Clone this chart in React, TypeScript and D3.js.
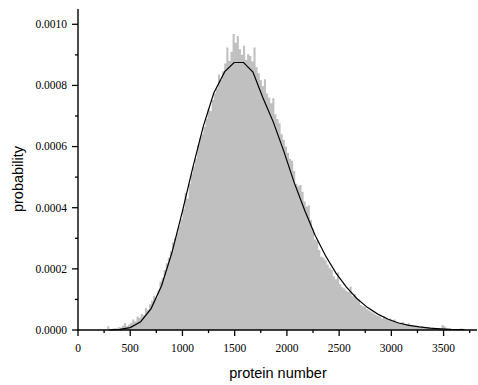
import React from 'react';
import * as d3 from 'd3';

// Histogram: bin edges start at binStart, each binWidth wide; values in probability x 1e-6
const binStart = 260;
const binWidth = 20;
const histPerMillion = [
  0, 12, 2, 4, 6, 5, 9, 8, 14, 22, 12, 18, 24, 34, 28, 44, 40, 52, 48, 72,
  66, 84, 96, 112, 104, 128, 158, 170, 196, 218, 236, 258, 286, 300, 318, 340, 362, 396, 448, 430,
  478, 512, 536, 560, 604, 628, 640, 664, 690, 724, 716, 752, 774, 790, 836, 818, 846, 872, 924, 880,
  910, 968, 940, 962, 918, 900, 930, 884, 902, 896, 878, 924, 860, 840, 818, 798, 820, 774, 760, 742,
  758, 706, 690, 676, 640, 622, 600, 580, 560, 554, 520, 478, 470, 474, 452, 420, 404, 408, 360, 330,
  296, 290, 262, 240, 236, 228, 214, 204, 196, 176, 166, 188, 150, 140, 136, 128, 124, 142, 110, 118,
  104, 100, 82, 78, 76, 68, 64, 60, 54, 50, 46, 44, 38, 46, 36, 34, 38, 30, 34, 26,
  24, 22, 26, 20, 18, 22, 16, 14, 12, 14, 10, 12, 9, 10, 8, 9, 7, 6, 5, 6,
  4, 16, 12, 4, 3, 4, 3, 2, 3, 2, 6, 2, 1, 1, 0, 1, 0,
];

// Fitted curve vertices (protein number, probability x 1e-6)
const curveX = [
  300, 400, 500, 600, 700, 800, 900, 1000, 1100, 1200, 1300, 1405, 1495, 1585, 1675, 1770,
  1870, 1970, 2070, 2170, 2270, 2370, 2470, 2570, 2670, 2770, 2870, 2970, 3070, 3170, 3270,
  3370, 3470, 3570, 3700,
];
const curvePerMillion = [
  0, 2, 8, 27, 70, 145, 254, 389, 533, 667, 775, 845, 875, 875, 844, 760,
  680, 585, 482, 392, 310, 243, 186, 140, 103, 74, 52, 35, 23, 15, 10,
  6, 4, 2, 1,
];

const xMajorTicks = [0, 500, 1000, 1500, 2000, 2500, 3000, 3500];
const xMinorTicks = [250, 750, 1250, 1750, 2250, 2750, 3250, 3750];
const yMajorTicks = [0, 0.0002, 0.0004, 0.0006, 0.0008, 0.001];
const yMinorTicks = [0.0001, 0.0003, 0.0005, 0.0007, 0.0009];

const xTitle = 'protein number';
const yTitle = 'probability';

export default function App() {
  const W = 478;
  const H = 385;
  const x = d3.scaleLinear().domain([0, 3820]).range([78, 477]);
  const y = d3.scaleLinear().domain([0, 0.00105]).range([330, 9]);
  const fmt = d3.format('.4f');

  const bars = histPerMillion.map((v, i) => {
    const x0 = binStart + i * binWidth;
    return { x0, x1: x0 + binWidth, p: v / 1e6 };
  });

  // Histogram outline as one filled step path (avoids seams between bars)
  const hp = d3.path();
  hp.moveTo(x(bars[0].x0), y(0));
  bars.forEach((b) => {
    hp.lineTo(x(b.x0), y(b.p));
    hp.lineTo(x(b.x1), y(b.p));
  });
  hp.lineTo(x(bars[bars.length - 1].x1), y(0));
  hp.closePath();

  const curvePts: [number, number][] = curveX.map((cx, i) => [cx, curvePerMillion[i] / 1e6]);
  const line = d3
    .line<[number, number]>()
    .x((d) => x(d[0]))
    .y((d) => y(d[1]));

  const serif = '"Liberation Serif", "Times New Roman", serif';
  const sans = '"Liberation Sans", Arial, sans-serif';

  return (
    <svg
      width={W}
      height={H}
      style={{ position: 'absolute', left: 0, top: 0, background: '#fff' }}
    >
      <rect x={0} y={0} width={W} height={H} fill="#fff" />
      <path d={hp.toString()} fill="#c0c0c0" stroke="none" />
      <path d={line(curvePts) || ''} fill="none" stroke="#000" strokeWidth={1.2} />

      {/* Y axis */}
      <line x1={x(0)} x2={x(0)} y1={y(0) + 0.5} y2={9} stroke="#000" strokeWidth={1.4} />
      {yMajorTicks.map((t) => (
        <g key={'ym' + t}>
          <line x1={x(0) - 6} x2={x(0)} y1={y(t)} y2={y(t)} stroke="#000" strokeWidth={1.3} />
          <text
            x={x(0) - 11}
            y={y(t)}
            dy="0.34em"
            textAnchor="end"
            fontFamily={serif}
            fontSize={11.5}
            fill="#000"
          >
            {fmt(t)}
          </text>
        </g>
      ))}
      {yMinorTicks.map((t) => (
        <line key={'yn' + t} x1={x(0) - 3} x2={x(0)} y1={y(t)} y2={y(t)} stroke="#000" strokeWidth={1.3} />
      ))}

      {/* X axis */}
      <line x1={x(0) - 0.7} x2={477} y1={y(0)} y2={y(0)} stroke="#000" strokeWidth={1.4} />
      {xMajorTicks.map((t) => (
        <g key={'xm' + t}>
          <line x1={x(t)} x2={x(t)} y1={y(0)} y2={y(0) + 6} stroke="#000" strokeWidth={1.3} />
          <text
            x={x(t)}
            y={352}
            textAnchor="middle"
            fontFamily={serif}
            fontSize={11.5}
            fill="#000"
          >
            {t}
          </text>
        </g>
      ))}
      {xMinorTicks.map((t) => (
        <line key={'xn' + t} x1={x(t)} x2={x(t)} y1={y(0)} y2={y(0) + 3} stroke="#000" strokeWidth={1.3} />
      ))}

      <text x={278} y={378} textAnchor="middle" fontFamily={sans} fontSize={14.5} fill="#000">
        {xTitle}
      </text>
      <text
        transform="translate(23,179) rotate(-90)"
        textAnchor="middle"
        fontFamily={sans}
        fontSize={14.5}
        fill="#000"
      >
        {yTitle}
      </text>
    </svg>
  );
}
